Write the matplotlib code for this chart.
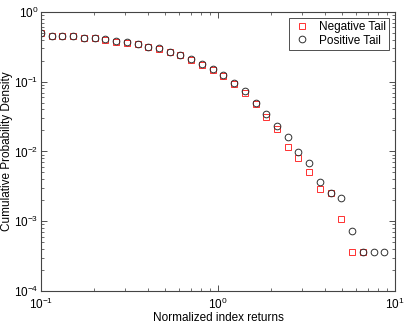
import numpy as np
import matplotlib
matplotlib.use('agg')
import matplotlib.pyplot as plt
from matplotlib.ticker import LogLocator, NullFormatter

plt.rcParams['font.family'] = ['Liberation Sans', 'DejaVu Sans']
plt.rcParams['mathtext.fontset'] = 'custom'
plt.rcParams['mathtext.rm'] = 'Liberation Sans'

# bin centres: log-spaced from 0.1 (the last bin at 10 is empty)
returns = np.logspace(-1, 1, 34)

positive_tail = [0.50, 0.457, 0.453, 0.45, 0.42, 0.42, 0.405, 0.38, 0.367,
                 0.348, 0.318, 0.30, 0.27, 0.242, 0.21, 0.178, 0.151, 0.124,
                 0.097, 0.0737, 0.0496, 0.0340, 0.0233, 0.0160, 0.00984,
                 0.00691, 0.00365, 0.00254, 0.00215, 0.00072, 0.000359,
                 0.000359, 0.000359]

negative_tail = [0.50, 0.455, 0.45, 0.447, 0.418, 0.418, 0.402, 0.377, 0.362,
                 0.343, 0.313, 0.296, 0.265, 0.238, 0.205, 0.174, 0.147, 0.121,
                 0.094, 0.0700, 0.0475, 0.0315, 0.0208, 0.0116, 0.00798,
                 0.00508, 0.00287, 0.00254, 0.00108, 0.000359, 0.000359]

fig = plt.figure(figsize=(4.07, 3.24), dpi=100)
ax = fig.add_axes([0.1007, 0.1019, 0.8698, 0.8611])

ax.loglog(returns[:len(negative_tail)], negative_tail, 's', mfc='none',
          mec='#ff3030', ms=4.2, mew=0.7, label='Negative Tail')
ax.loglog(returns[:len(positive_tail)], positive_tail, 'o', mfc='none',
          mec='#303030', ms=4.8, mew=0.7, label='Positive Tail')

ax.set_xlim(0.1, 10)
ax.set_ylim(1e-4, 1)
ax.xaxis.set_minor_locator(LogLocator(base=10, subs=np.arange(2, 10)))
ax.yaxis.set_minor_locator(LogLocator(base=10, subs=np.arange(2, 10)))
ax.xaxis.set_minor_formatter(NullFormatter())
ax.yaxis.set_minor_formatter(NullFormatter())

ax.tick_params(which='both', direction='in', top=True, right=True,
               labelsize=8.5, colors='#333333', labelcolor='black')
ax.tick_params(which='major', length=4, width=0.6)
ax.tick_params(axis='y', which='major', pad=2)
ax.tick_params(axis='x', which='major', pad=4)
ax.tick_params(which='minor', length=2, width=0.5)
for s in ax.spines.values():
    s.set_color('#444444')
    s.set_linewidth(0.8)

ax.set_xlabel('Normalized index returns', fontsize=8.5, labelpad=0)
ax.set_ylabel('Cumulative Probability Density', fontsize=8.5)
ax.yaxis.set_label_coords(-0.078, 0.5)

leg = ax.legend(loc='upper right', fontsize=8.5, fancybox=False,
                framealpha=1, edgecolor='#333333', borderpad=0.3,
                labelspacing=0.1, handletextpad=0.6, handlelength=1.6,
                borderaxespad=0.5)
leg.get_frame().set_linewidth(0.6)

fig.savefig('out.png', dpi=100)
